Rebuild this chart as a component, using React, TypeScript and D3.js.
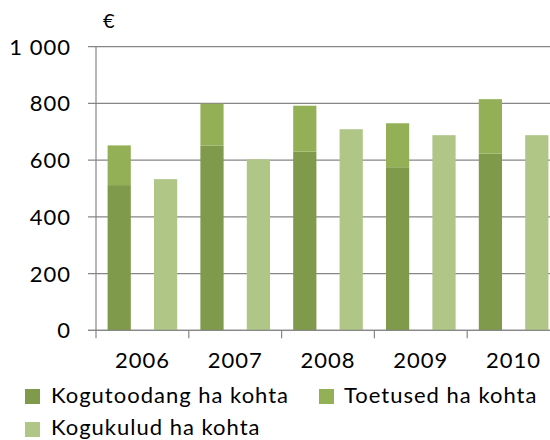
import React from "react";
import * as d3 from "d3";

const years = ["2006", "2007", "2008", "2009", "2010"];
const kogutoodang = [512, 651, 630, 575, 623];
const toetused = [140, 148, 162, 155, 192];
const kogukulud = [533, 603, 709, 688, 688];
const yTicks = [0, 200, 400, 600, 800, 1000];
const seriesNames = ["Kogutoodang ha kohta", "Toetused ha kohta", "Kogukulud ha kohta"];
const colors = ["#7f9a4a", "#94b056", "#afc687"];

const FONT = "Lato, 'Open Sans', sans-serif";

export default function App() {
  const left = 96;
  const right = 560;
  const top = 46.7;
  const bottom = 330.3;
  const x = d3.scaleBand<string>().domain(years).range([left, right]).paddingInner(0).paddingOuter(0);
  const xi = d3.scaleBand<string>().domain(["stack", "cost"]).range([0, x.bandwidth()]).paddingInner(0.5).paddingOuter(0.25);
  const y = d3.scaleLinear().domain([0, 1000]).range([bottom, top]);
  const fmt = (v: number) => (v >= 1000 ? d3.format(",")(v).replace(",", " ") : String(v));
  const grid = "#868686";

  return (
    <svg width={550} height={440} style={{ position: "absolute", left: 0, top: 0, background: "#fff" }} fontFamily={FONT}>
      {yTicks.map((t) => (
        <line key={"g" + t} x1={left - 8} x2={550} y1={y(t)} y2={y(t)} stroke={grid} strokeWidth={1.2} />
      ))}
      {years.map((yr, i) => {
        const bx = x(yr)!;
        return (
          <g key={yr}>
            <rect x={bx + xi("stack")!} width={xi.bandwidth()} y={y(kogutoodang[i])} height={y(0) - y(kogutoodang[i])} fill={colors[0]} />
            <rect x={bx + xi("stack")!} width={xi.bandwidth()} y={y(kogutoodang[i] + toetused[i])} height={y(kogutoodang[i]) - y(kogutoodang[i] + toetused[i])} fill={colors[1]} />
            <rect x={bx + xi("cost")!} width={xi.bandwidth()} y={y(kogukulud[i])} height={y(0) - y(kogukulud[i])} fill={colors[2]} />
          </g>
        );
      })}
      <line x1={left} x2={left} y1={top} y2={bottom} stroke={grid} strokeWidth={1.2} />
      <line x1={left - 8} x2={550} y1={bottom} y2={bottom} stroke={grid} strokeWidth={1.2} />
      {years.map((yr) => (
        <line key={"t" + yr} x1={x(yr)!} x2={x(yr)!} y1={bottom} y2={bottom + 8} stroke={grid} strokeWidth={1.2} />
      ))}
      {yTicks.map((t) => (
        <text key={"l" + t} x={71} y={y(t)} dy="0.36em" textAnchor="end" fontSize={22} letterSpacing={1} fill="#000">
          {fmt(t)}
        </text>
      ))}
      <text x={103} y={28} fontSize={20} fill="#000">€</text>
      {years.map((yr) => (
        <text key={"x" + yr} x={x(yr)! + x.bandwidth() / 2} y={368} textAnchor="middle" fontSize={22} letterSpacing={1} fill="#000">
          {yr}
        </text>
      ))}
      <rect x={25} y={389} width={15} height={15} fill={colors[0]} />
      <text x={51} y={403} fontSize={22} letterSpacing={1} fill="#000">{seriesNames[0]}</text>
      <rect x={319} y={389} width={15} height={15} fill={colors[1]} />
      <text x={344} y={403} fontSize={22} letterSpacing={1} fill="#000">{seriesNames[1]}</text>
      <rect x={25} y={422} width={15} height={15} fill={colors[2]} />
      <text x={51} y={435} fontSize={22} letterSpacing={1} fill="#000">{seriesNames[2]}</text>
    </svg>
  );
}
